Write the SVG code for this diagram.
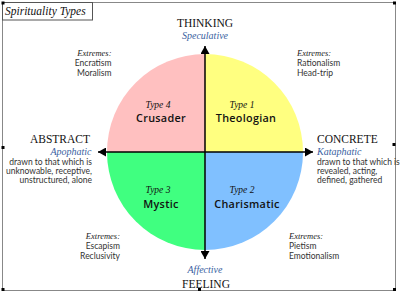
<svg xmlns="http://www.w3.org/2000/svg" width="400" height="294" viewBox="0 0 400 294">
<style>
.axis{font-family:"Liberation Serif",serif;font-size:11.5px;fill:#111}
.blue{font-family:"Liberation Serif",serif;font-style:italic;font-size:10px;fill:#3a5f9f}
.ext{font-family:"Liberation Serif",serif;font-style:italic;font-size:8.5px;fill:#222}
.sm{font-family:Lato,"Liberation Sans",sans-serif;font-size:8.5px;fill:#333}
.typ{font-family:"Liberation Serif",serif;font-style:italic;font-size:9.5px;fill:#111}
.nm{font-family:"Open Sans","Liberation Sans",sans-serif;font-weight:600;font-size:10.8px;fill:#111;letter-spacing:0.3px}
.h{fill:#000}
</style>
<defs>
<marker id="ah" viewBox="0 0 8 9" refX="8" refY="4.5" markerWidth="8" markerHeight="9" markerUnits="userSpaceOnUse" orient="auto">
<path d="M0,0 L8,4.5 L0,9 Z" fill="#000"/>
</marker>
</defs>
<rect x="0" y="0" width="400" height="294" fill="#fff"/>
<rect x="2.5" y="2.5" width="393" height="288" fill="none" stroke="#888" stroke-width="1"/>
<g id="title">
<rect x="2.5" y="2.5" width="90" height="17.5" fill="#fff" stroke="#555" stroke-width="1"/>
<text x="5" y="14.5" font-family="Liberation Serif,serif" font-style="italic" font-size="11.5" fill="#111">Spirituality Types</text>
</g>
<g id="type4">
<path d="M205,152 L107,152 A98,98 0 0 1 205,54 Z" fill="#ffc0c0"/>
<text class="typ" x="158" y="108" text-anchor="middle">Type 4</text>
<text class="nm" x="161" y="122" text-anchor="middle">Crusader</text>
</g>
<g id="type1">
<path d="M205,152 L205,54 A98,98 0 0 1 303,152 Z" fill="#ffff80"/>
<text class="typ" x="242" y="108" text-anchor="middle">Type 1</text>
<text class="nm" x="246" y="122" text-anchor="middle">Theologian</text>
</g>
<g id="type3">
<path d="M205,152 L205,250 A98,98 0 0 1 107,152 Z" fill="#40ff80"/>
<text class="typ" x="158" y="193" text-anchor="middle">Type 3</text>
<text class="nm" x="161" y="208" text-anchor="middle">Mystic</text>
</g>
<g id="type2">
<path d="M205,152 L303,152 A98,98 0 0 1 205,250 Z" fill="#80c0ff"/>
<text class="typ" x="242" y="193" text-anchor="middle">Type 2</text>
<text class="nm" x="247" y="208" text-anchor="middle">Charismatic</text>
</g>
<g id="connectors" stroke="#000" stroke-width="1.5" fill="none">
<line x1="205" y1="152" x2="205" y2="46" marker-end="url(#ah)"/>
<line x1="205" y1="152" x2="205" y2="259" marker-end="url(#ah)"/>
<line x1="205" y1="152" x2="98" y2="152" marker-end="url(#ah)"/>
<line x1="205" y1="152" x2="313" y2="152" marker-end="url(#ah)"/>
</g>
<g id="thinking">
<text class="axis" x="205" y="27" text-anchor="middle">THINKING</text>
<text class="blue" x="205" y="38.5" text-anchor="middle">Speculative</text>
</g>
<g id="feeling">
<text class="blue" x="205" y="273" text-anchor="middle">Affective</text>
<text class="axis" x="206" y="288" text-anchor="middle">FEELING</text>
</g>
<g id="abstract" text-anchor="end">
<text class="axis" x="90" y="143">ABSTRACT</text>
<text class="blue" x="91.5" y="155">Apophatic</text>
<text class="sm" x="92" y="165">drawn to that which is</text>
<text class="sm" x="92" y="174">unknowable, receptive,</text>
<text class="sm" x="92" y="183">unstructured, alone</text>
</g>
<g id="concrete">
<text class="axis" x="317" y="143">CONCRETE</text>
<text class="blue" x="317" y="155">Kataphatic</text>
<text class="sm" x="317" y="165">drawn to that which is</text>
<text class="sm" x="317" y="174">revealed, acting,</text>
<text class="sm" x="317" y="183">defined, gathered</text>
</g>
<g id="ext-tl" text-anchor="end">
<text class="ext" x="111.5" y="56">Extremes:</text>
<text class="sm" x="111.5" y="66">Encratism</text>
<text class="sm" x="111.5" y="76">Moralism</text>
</g>
<g id="ext-tr">
<text class="ext" x="297" y="56">Extremes:</text>
<text class="sm" x="297" y="66">Rationalism</text>
<text class="sm" x="297" y="76">Head-trip</text>
</g>
<g id="ext-bl" text-anchor="end">
<text class="ext" x="120" y="238.5">Extremes:</text>
<text class="sm" x="120" y="249">Escapism</text>
<text class="sm" x="120" y="259">Reclusivity</text>
</g>
<g id="ext-br">
<text class="ext" x="289" y="238.5">Extremes:</text>
<text class="sm" x="289" y="249">Pietism</text>
<text class="sm" x="289" y="259">Emotionalism</text>
</g>
<g id="handles">
<rect class="h" x="1.5" y="1.5" width="3" height="3"/>
<rect class="h" x="393" y="1.5" width="3" height="3"/>
<rect class="h" x="1.5" y="146" width="3" height="3"/>
<rect class="h" x="392.5" y="143" width="3" height="3"/>
<rect class="h" x="1.5" y="288" width="3" height="3"/>
<rect class="h" x="198" y="288" width="3" height="3"/>
<rect class="h" x="393" y="288" width="3" height="3"/>
</g>
</svg>
